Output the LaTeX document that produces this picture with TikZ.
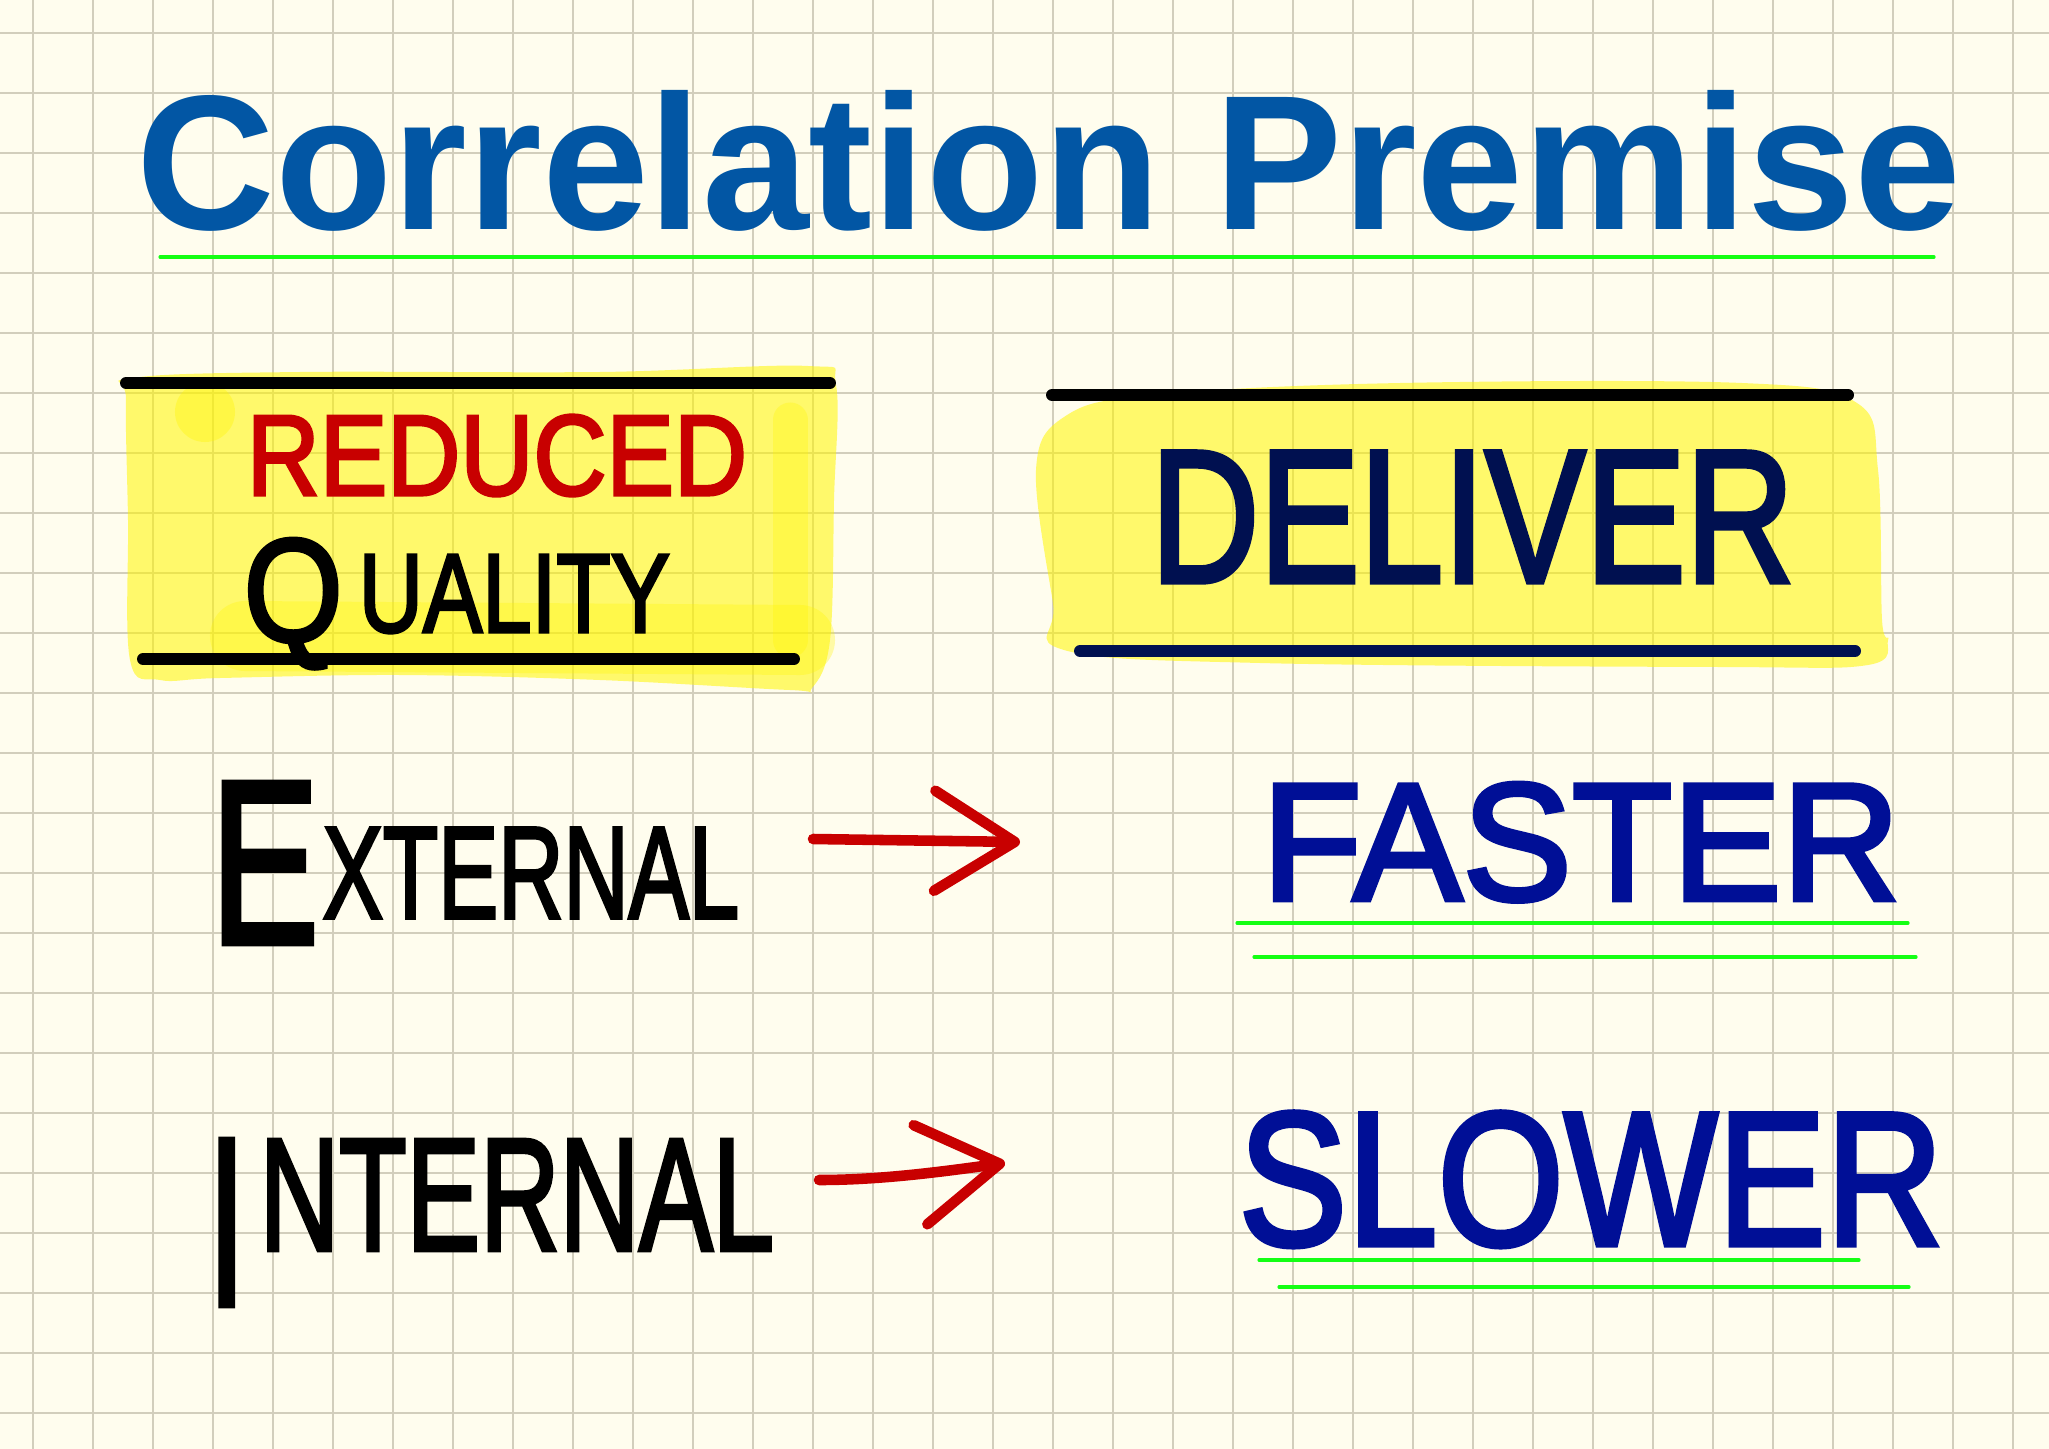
\documentclass[tikz,border=0pt]{standalone}
\usepackage{fontspec}
\usepackage{graphicx}
\setmainfont{Liberation Sans}
\newfontfamily\handfont{Liberation Sans}[FakeBold=2.8]
\usetikzlibrary{arrows.meta}

\definecolor{paper}{RGB}{255,253,238}
\definecolor{gridink}{RGB}{210,206,188}
\definecolor{titleblue}{RGB}{2,86,164}
\definecolor{penred}{RGB}{200,0,0}
\definecolor{pennavy}{RGB}{0,16,80}
\definecolor{penblue}{RGB}{0,15,150}
\definecolor{marker}{RGB}{255,246,0}
\definecolor{rulegreen}{RGB}{20,255,20}

\begin{document}
\begin{tikzpicture}[x=0.01cm, y=-0.01cm,
  gridline/.style={gridink, line width=0.45pt},
  highlight/.style={fill=marker, fill opacity=0.55},
  markerband/.style={draw=marker, draw opacity=0.3, line cap=round},
  boxrule/.style={line width=3.4pt, line cap=round},
  greenrule/.style={rulegreen, line width=0.9pt, line cap=round},
  hand/.style={inner sep=0pt, anchor=base west, font=\handfont},
  redarrow/.style={penred, line width=3pt, line cap=round,
    -{Straight Barb[length=8mm, width=10mm, round]}}]
  \useasboundingbox (0,0) rectangle (2049,1449);
  \fill[paper] (0,0) rectangle (2049,1449);

  % squared paper
  \foreach \gx in {33,93,...,2013}
    \draw[gridline] (\gx,0) -- (\gx,1449);
  \foreach \gy in {33,93,...,1413}
    \draw[gridline] (0,\gy) -- (2049,\gy);

  % title
  \node[inner sep=0pt, anchor=base west, text=titleblue,
    font=\bfseries\fontsize{54.6}{60}\selectfont] (title) at (136,230) {Correlation Premise};
  \draw[greenrule] (160,257) -- (1934,257);

  % highlighter, left box
  \fill[highlight] plot[smooth cycle, tension=0.6] coordinates {(133,378) (300,372) (600,372)
    (808,366) (836,385) (834,500) (830,640) (812,688) (790,690) (600,680) (400,675)
    (220,678) (160,680) (130,660) (128,520) (126,400)};
  \fill[highlight, fill opacity=0.35] (205,412) circle (0.3cm);
  \draw[markerband, line width=0.7cm] (245,636) -- (800,640);
  \draw[markerband, line width=0.35cm] (790,420) -- (790,640);

  % highlighter, right box
  \fill[highlight] plot[smooth cycle, tension=0.6] coordinates {(1064,417) (1150,395) (1400,383)
    (1742,383) (1857,403) (1878,470) (1882,620) (1888,640) (1868,665) (1719,667)
    (1260,663) (1064,650) (1053,603) (1036,470)};

  % rules round the boxes
  \draw[boxrule] (126,383) -- (830,383);
  \draw[boxrule] (143,659) -- (794,659);
  \draw[boxrule] (1052,395) -- (1848,395);
  \draw[boxrule, pennavy] (1080,651) -- (1855,651);

  % handwritten words
  \node[hand, text=penred] (reduced) at (246,495) {\resizebox{5.00cm}{0.80cm}{REDUCED}};
  \node[hand] (quality) at (243,632) {\raisebox{-0.09cm}{\resizebox*{0.99cm}{1.30cm}{Q}}\hspace{0.16cm}\resizebox{3.11cm}{0.77cm}{UALITY}};
  \node[hand, text=pennavy] (deliver) at (1150,582) {\resizebox{6.43cm}{1.30cm}{DELIVER}};
  \node[hand] (external) at (210,918) {\raisebox{-0.25cm}{\resizebox{1.08cm}{1.60cm}{E}}\hspace{0.04cm}\resizebox{4.16cm}{0.90cm}{XTERNAL}};
  \node[hand] (internal) at (207,1250) {\raisebox{-0.55cm}{\resizebox{0.38cm}{1.65cm}{I}}\hspace{0.14cm}\resizebox{5.14cm}{1.10cm}{NTERNAL}};
  \node[hand, text=penblue] (faster) at (1261,900) {\resizebox{6.38cm}{1.17cm}{FASTER}};
  \node[hand, text=penblue] (slower) at (1238,1245) {\resizebox{7.04cm}{1.33cm}{SLOWER}};

  % green underlines
  \draw[greenrule] (1237,923) -- (1908,923);
  \draw[greenrule] (1254,957) -- (1916,957);
  \draw[greenrule] (1259,1260) -- (1859,1260);
  \draw[greenrule] (1279,1287) -- (1909,1287);

  % arrows
  \coordinate (ext tail) at (813,839);
  \coordinate (ext tip) at (1020,842);
  \coordinate (int tail) at (819,1180);
  \coordinate (int tip) at (1005,1163);
  \draw[redarrow] (ext tail) -- (ext tip);
  \draw[redarrow] (int tail) .. controls (880,1180) and (940,1172) .. (int tip);
\end{tikzpicture}
\end{document}
